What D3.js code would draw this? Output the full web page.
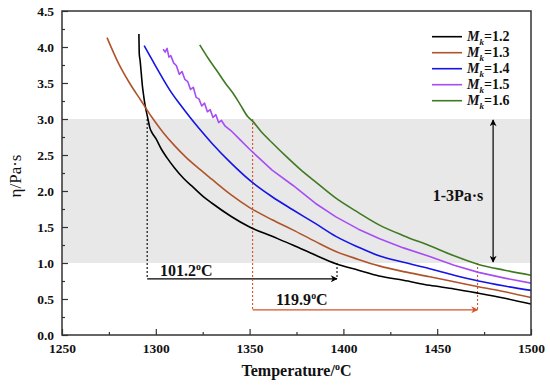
<!DOCTYPE html>
<html><head><meta charset="utf-8">
<script src="https://cdn.jsdelivr.net/npm/d3@7"></script>
<style>
html,body{margin:0;padding:0;background:#fff;}
</style></head>
<body><svg id="chart" width="550" height="387" font-family="Liberation Serif"></svg>
<script>
// ---------------- data ----------------
const seriesNames = ["1.2", "1.3", "1.4", "1.5", "1.6"];
const seriesColors = ["#000000", "#b0532a", "#1414e6", "#a64df5", "#3f7a22"];

const tempMk12 = [1291.0,1291.2,1291.6,1292.2,1292.9,1293.5,1294.1,1295.0,1295.9,1296.8,1298.2,1300,1303,1306,1310,1315,1320,1325,1330,1340,1350,1362,1373,1385,1396,1408,1419,1432,1446,1459,1472,1486,1500];
const etaMk12  = [4.18,3.90,3.82,3.65,3.45,3.33,3.22,3.10,2.99,2.88,2.80,2.73,2.58,2.46,2.32,2.17,2.05,1.93,1.83,1.65,1.50,1.37,1.25,1.11,0.99,0.90,0.82,0.76,0.69,0.64,0.58,0.51,0.43];

const tempMk13 = [1274,1280,1286,1292,1298,1304,1310,1316,1323,1330,1340,1350,1362,1373,1385,1396,1408,1419,1432,1446,1459,1472,1486,1500];
const etaMk13  = [4.13,3.78,3.50,3.26,3.02,2.81,2.63,2.47,2.31,2.16,1.95,1.77,1.60,1.46,1.30,1.16,1.05,0.96,0.88,0.81,0.74,0.67,0.60,0.52];

const tempMk14 = [1293.8,1297,1300,1304,1308,1313,1318,1323,1330,1340,1350,1362,1373,1385,1396,1408,1419,1432,1446,1459,1472,1486,1500];
const etaMk14  = [4.02,3.87,3.73,3.55,3.38,3.20,3.03,2.87,2.66,2.39,2.15,1.92,1.74,1.55,1.37,1.22,1.10,1.01,0.92,0.83,0.75,0.68,0.62];

const tempMk15 = [1303.9,1305,1306,1307,1308,1309.5,1311,1312.5,1314,1315.5,1317,1318.5,1320,1321.5,1323,1324.5,1326,1327.5,1329,1330.5,1332,1333.5,1335,1337,1340,1345,1350,1362,1373,1385,1396,1408,1419,1432,1446,1459,1472,1486,1500];
const etaMk15  = [3.97,3.93,3.98,3.86,3.88,3.78,3.74,3.62,3.66,3.55,3.52,3.41,3.44,3.30,3.28,3.18,3.22,3.10,3.13,3.02,3.06,2.95,2.98,2.90,2.84,2.71,2.58,2.29,2.08,1.83,1.64,1.47,1.34,1.21,1.09,0.97,0.87,0.79,0.72];

const tempMk16 = [1323.4,1328,1332.3,1337,1341.1,1345,1349.1,1351.6,1356,1362,1369.5,1377,1385,1396,1408,1419,1432,1446,1459,1472,1486,1500];
const etaMk16  = [4.03,3.84,3.68,3.50,3.36,3.20,3.03,2.97,2.83,2.67,2.48,2.30,2.13,1.90,1.70,1.53,1.38,1.24,1.10,0.98,0.90,0.83];

const xTicks = [1250,1300,1350,1400,1450,1500];
const xMinorTicks = [1275,1325,1375,1425,1475];
const yTicks = [0.0,0.5,1.0,1.5,2.0,2.5,3.0,3.5,4.0,4.5];
const yMinorTicks = [0.25,0.75,1.25,1.75,2.25,2.75,3.25,3.75,4.25];

const bandRange = [1.0, 3.0];
const blackSpan = {from:1295.4, to:1396.6, arrowEta:0.78, label:"101.2"};
const redSpan   = {from:1351.6, to:1471.5, arrowEta:0.35, label:"119.9"};
const rangeArrowT = 1479.8;

// ---------------- drawing ----------------
const FONT = "Liberation Serif";
const svg = d3.select("#chart");
const L = 62, R = 531, T = 11, B = 335;
const x = d3.scaleLinear().domain([1250,1500]).range([L,R]);
const y = d3.scaleLinear().domain([0,4.5]).range([B,T]);

const defs = svg.append("defs");
function marker(id, color, orient){
  defs.append("marker").attr("id",id).attr("viewBox","0 0 10 10")
    .attr("refX",9).attr("refY",5).attr("markerWidth",9).attr("markerHeight",7)
    .attr("markerUnits","userSpaceOnUse").attr("orient",orient)
    .append("path").attr("d","M0,0 L10,5 L0,10 L3,5 Z").attr("fill",color);
}
marker("ab","#000","auto");
marker("ar","#d2542a","auto");
marker("abs","#000","auto-start-reverse");

// gray band
svg.append("rect").attr("x",L).attr("width",R-L)
  .attr("y",y(bandRange[1])).attr("height",y(bandRange[0])-y(bandRange[1]))
  .attr("fill","#e8e8e8");

// annotations (dashed lines + arrows)
const ann = svg.append("g");
ann.append("line").attr("x1",x(blackSpan.from)).attr("x2",x(blackSpan.from))
  .attr("y1",y(3.0)).attr("y2",y(blackSpan.arrowEta))
  .attr("stroke","#000").attr("stroke-width",1.1).attr("stroke-dasharray","2,2");
ann.append("line").attr("x1",x(blackSpan.to)).attr("x2",x(blackSpan.to))
  .attr("y1",y(1.0)).attr("y2",y(blackSpan.arrowEta))
  .attr("stroke","#000").attr("stroke-width",1.1).attr("stroke-dasharray","2,2");
ann.append("line").attr("x1",x(blackSpan.from)).attr("x2",x(blackSpan.to))
  .attr("y1",y(blackSpan.arrowEta)).attr("y2",y(blackSpan.arrowEta))
  .attr("stroke","#000").attr("stroke-width",1.3).attr("marker-end","url(#ab)");

ann.append("line").attr("x1",x(redSpan.from)).attr("x2",x(redSpan.from))
  .attr("y1",y(3.0)).attr("y2",y(redSpan.arrowEta))
  .attr("stroke","#d2542a").attr("stroke-width",1.1).attr("stroke-dasharray","2,2");
ann.append("line").attr("x1",x(redSpan.to)).attr("x2",x(redSpan.to))
  .attr("y1",y(1.0)).attr("y2",y(redSpan.arrowEta))
  .attr("stroke","#d2542a").attr("stroke-width",1.1).attr("stroke-dasharray","2,2");
ann.append("line").attr("x1",x(redSpan.from)).attr("x2",x(redSpan.to))
  .attr("y1",y(redSpan.arrowEta)).attr("y2",y(redSpan.arrowEta))
  .attr("stroke","#d2542a").attr("stroke-width",1.3).attr("marker-end","url(#ar)");

// double arrow 1-3 Pa·s
ann.append("line").attr("x1",x(rangeArrowT)).attr("x2",x(rangeArrowT))
  .attr("y1",y(bandRange[1])+1).attr("y2",y(bandRange[0])-1)
  .attr("stroke","#000").attr("stroke-width",1.2)
  .attr("marker-start","url(#abs)").attr("marker-end","url(#ab)");

// curves
const temps = [tempMk12,tempMk13,tempMk14,tempMk15,tempMk16];
const etas = [etaMk12,etaMk13,etaMk14,etaMk15,etaMk16];
const smooth = d3.line().x(d=>x(d[0])).y(d=>y(d[1])).curve(d3.curveMonotoneX);
const jagged = d3.line().x(d=>x(d[0])).y(d=>y(d[1])).curve(d3.curveLinear);
temps.forEach((ts,i)=>{
  const pts = ts.map((t,j)=>[t,etas[i][j]]);
  svg.append("path").datum(pts).attr("d", i===3 ? jagged : smooth).attr("fill","none")
    .attr("stroke",seriesColors[i]).attr("stroke-width",1.6).attr("stroke-linejoin","round");
});

// annotation texts
function degLabel(g, xx, yy, num, size){
  const t = g.append("text").attr("x",xx).attr("y",yy).attr("font-family",FONT)
    .attr("font-size",size).attr("font-weight","bold").attr("fill","#111");
  t.append("tspan").text(num);
  t.append("tspan").attr("dy",-size*0.4).attr("font-size",size*0.62).text("o");
  t.append("tspan").attr("dy",size*0.4).text("C");
}
degLabel(svg, 160, 276, blackSpan.label, 16);
degLabel(svg, 276, 305, redSpan.label, 16);
svg.append("text").attr("x",458).attr("y",201).attr("text-anchor","middle").attr("font-family",FONT)
  .attr("font-size",16).attr("font-weight","bold").attr("fill","#111").text("1-3Pa·s");

// axes
const axisColor = "#333";
const xa = svg.append("g").attr("transform",`translate(0,${B})`)
  .call(d3.axisBottom(x).tickValues(xTicks).tickSize(-6).tickPadding(8).tickFormat(d3.format("d")));
const xm = svg.append("g").attr("transform",`translate(0,${B})`)
  .call(d3.axisBottom(x).tickValues(xMinorTicks).tickSize(-3).tickFormat(""));
const ya = svg.append("g").attr("transform",`translate(${L},0)`)
  .call(d3.axisLeft(y).tickValues(yTicks).tickSize(-6).tickPadding(8).tickFormat(d3.format(".1f")));
const ym = svg.append("g").attr("transform",`translate(${L},0)`)
  .call(d3.axisLeft(y).tickValues(yMinorTicks).tickSize(-3).tickFormat(""));
[xa,xm,ya,ym].forEach(g=>{
  g.attr("font-family",FONT).attr("font-size",13).attr("font-weight","bold");
  g.select(".domain").remove();
  g.selectAll(".tick line").attr("stroke",axisColor).attr("stroke-width",1.2);
  g.selectAll(".tick text").attr("font-family",FONT)
    .attr("font-size",13.5).attr("font-weight","bold").attr("fill","#111");
});
svg.append("rect").attr("x",L).attr("y",T).attr("width",R-L).attr("height",B-T)
  .attr("fill","none").attr("stroke",axisColor).attr("stroke-width",1.5);

// axis titles
const xt = svg.append("text").attr("x",(L+R)/2).attr("y",376).attr("text-anchor","middle")
  .attr("font-family",FONT).attr("font-size",16).attr("font-weight","bold").attr("fill","#111");
xt.append("tspan").text("Temperature/");
xt.append("tspan").attr("dy",-6).attr("font-size",10).text("o");
xt.append("tspan").attr("dy",6).text("C");
svg.append("text").attr("transform","translate(21,176) rotate(-90)").attr("text-anchor","middle")
  .attr("font-family",FONT).attr("font-size",17).attr("fill","#111").text("η/Pa·s");

// legend
const lg = svg.append("g");
seriesNames.forEach((n,i)=>{
  const yy = 36.7 + i*16;
  lg.append("line").attr("x1",432).attr("x2",462).attr("y1",yy).attr("y2",yy)
    .attr("stroke",seriesColors[i]).attr("stroke-width",1.6);
  const t = lg.append("text").attr("x",467).attr("y",yy+4.5).attr("font-family",FONT)
    .attr("font-size",14).attr("font-weight","bold").attr("fill","#111");
  t.append("tspan").attr("font-style","italic").text("M");
  t.append("tspan").attr("font-style","italic").attr("font-size",9).attr("dy",4).text("k");
  t.append("tspan").attr("dy",-4).text("=" + n);
});
</script>
</body></html>
